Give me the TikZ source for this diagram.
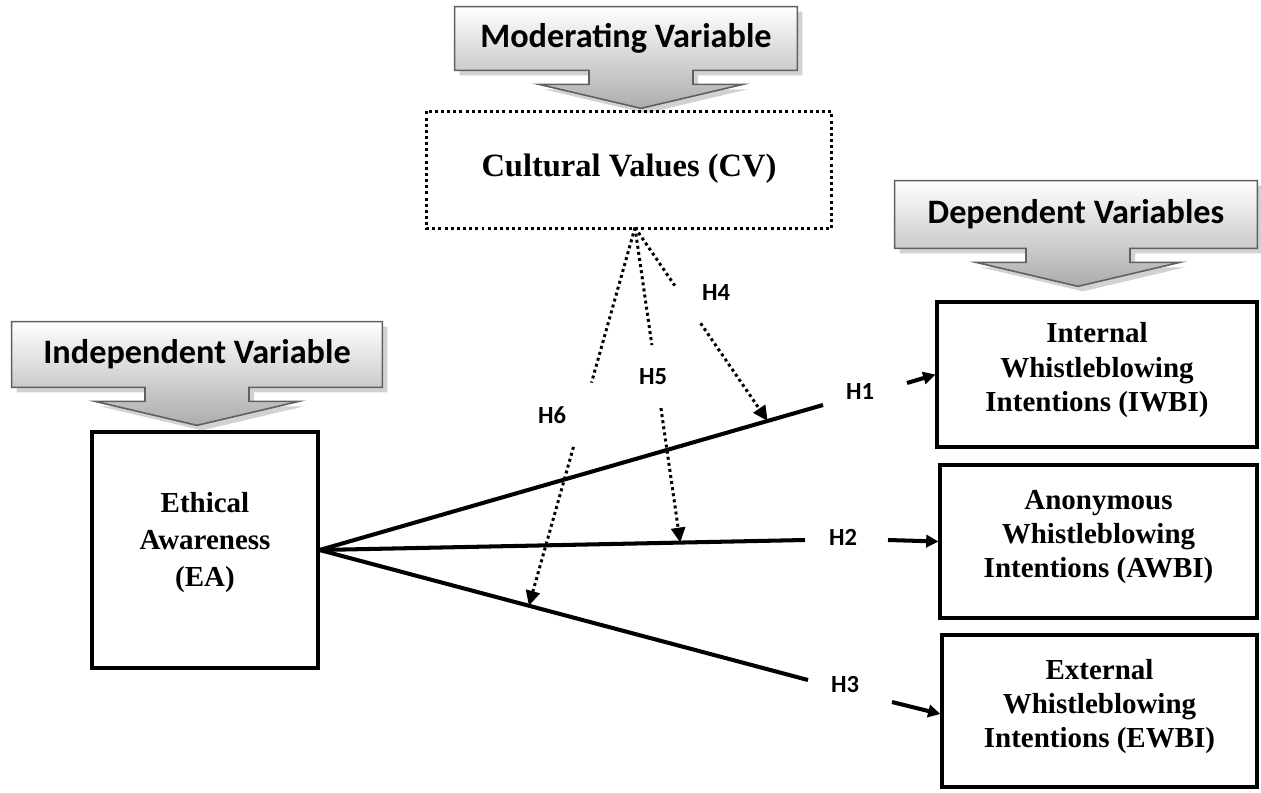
\documentclass[tikz,border=0pt]{standalone}
\usepackage{fontspec}
\setmainfont{Liberation Serif}
\newfontfamily\calibrifont{Carlito}
\usetikzlibrary{calc,positioning,arrows.meta,backgrounds}

\begin{document}
\begin{tikzpicture}[x=0.02cm,y=-0.02cm,
		varbox/.style={rectangle,draw=black,line width=1.8pt,align=center,font=\bfseries\fontsize{16.5}{19.5}\selectfont},
		banner/.style={rectangle,inner sep=0pt,font=\calibrifont\bfseries\fontsize{19.5}{22}\selectfont},
		hyp/.style={inner sep=1pt,font=\calibrifont\bfseries\fontsize{14}{16}\selectfont},
		link/.style={line width=2.3pt},
		modline/.style={line width=1.7pt,dash pattern=on 1.7pt off 1.8pt}]
		\useasboundingbox (0,0) rectangle (1261,792);
		\node[banner,minimum width=6.84cm,minimum height=1.26cm] (modvar) at (626,38.5) {Moderating Variable};
		\node[banner,minimum width=7.40cm,minimum height=1.30cm] (indvar) at (197,354.5) {Independent Variable};
		\node[banner,minimum width=7.24cm,minimum height=1.34cm] (depvar) at (1076,214.5) {Dependent Variables};
		\node[varbox,draw=none,minimum width=8.04cm,minimum height=2.28cm,font=\bfseries\fontsize{18.5}{22}\selectfont] (cv) at (629,170) {Cultural Values (CV)\\[-16pt]};
		\draw[modline] (cv.north west) rectangle (cv.south east);
		\node[varbox,minimum width=4.52cm,minimum height=4.72cm,font=\bfseries\fontsize{16.5}{21}\selectfont] (ea) at (205,550) {Ethical\\Awareness\\(EA)\\[-9pt]};
		\node[varbox,minimum width=6.40cm,minimum height=2.90cm] (iwbi) at (1097,374.5) {Internal\\Whistleblowing\\Intentions (IWBI)\\[-11pt]};
		\node[varbox,minimum width=6.34cm,minimum height=3.06cm] (awbi) at (1098.5,541.5) {Anonymous\\Whistleblowing\\Intentions (AWBI)\\[-11pt]};
		\node[varbox,minimum width=6.30cm,minimum height=3.04cm] (ewbi) at (1099.5,711) {External\\Whistleblowing\\Intentions (EWBI)\\[-11pt]};

		\begin{scope}[on background layer]
			\foreach \v/\dx in {modvar/15,indvar/0,depvar/2}
				\draw[draw=gray!75!black,line width=0.9pt,top color=white,bottom color=gray!65,
					preaction={fill=gray!35,transform canvas={xshift=0.1cm,yshift=-0.1cm}}]
					(\v.north west) -- (\v.north east) -- (\v.south east) -- ($(\v.south)+(\dx+52,0)$) -- ++(0,14) -- ++(50,0)
					-- ($(\v.south)+(\dx,38)$) -- ($(\v.south)+(\dx-102,14)$) -- ++(50,0) -- ++(0,-14) -- (\v.south west) -- cycle;
		\end{scope}

		\coordinate (e1) at (823,405);
		\coordinate (e2) at (805,540);
		\coordinate (e3) at (808,680);
		\draw[link] (ea.east) -- (e1);
		\draw[link] (ea.east) -- (e2);
		\draw[link] (ea.east) -- (e3);
		\node[hyp] (h1) at (860,392) {H1};
		\node[hyp] (h2) at (843,537) {H2};
		\node[hyp] (h3) at (845,685) {H3};
		\coordinate (s1) at (907,383);
		\coordinate (s2) at (888,540);
		\coordinate (s3) at (892,702);
		\draw[link,-{Triangle[length=7pt,width=7pt]}] (s1) -- (iwbi.west);
		\draw[link,-{Triangle[length=7pt,width=7pt]}] (s2) -- (awbi.west);
		\draw[link,-{Triangle[length=7pt,width=7pt]}] (s3) -- ([yshift=-0.06cm]ewbi.west);

		\coordinate (cvp) at ($(cv.south)+(6,-1)$);
		\coordinate (t4) at ($(ea.east)!0.89!(e1)$);
		\coordinate (t5) at ($(ea.east)!0.743!(e2)$);
		\coordinate (t6) at ($(ea.east)!0.4286!(e3)$);
		\node[hyp] (h4) at (716,293) {H4};
		\node[hyp] (h5) at (653,377) {H5};
		\node[hyp] (h6) at (552,415) {H6};
		\draw[modline] (cvp) -- ($(cvp)!0.30!(t4)$);
		\draw[modline,-{Triangle[length=8.5pt,width=8pt]}] ($(cvp)!0.495!(t4)$) -- (t4);
		\draw[modline] (cvp) -- ($(cvp)!0.373!(t5)$);
		\draw[modline,-{Triangle[length=8.5pt,width=8pt]}] ($(cvp)!0.573!(t5)$) -- (t5);
		\draw[modline] (cvp) -- ($(cvp)!0.41!(t6)$);
		\draw[modline,-{Triangle[length=8.5pt,width=8pt]}] ($(cvp)!0.58!(t6)$) -- (t6);
	\end{tikzpicture}
\end{document}
